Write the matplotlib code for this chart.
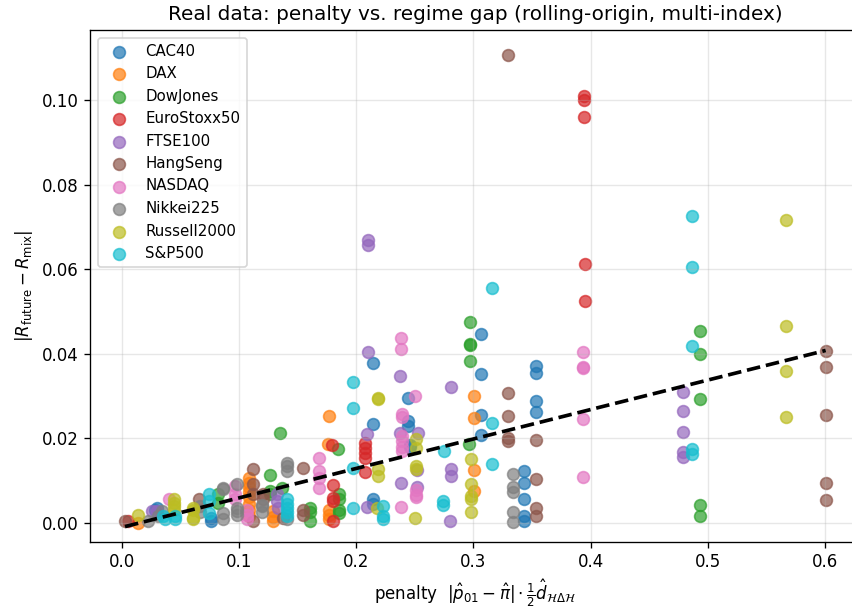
import numpy as np
import matplotlib
matplotlib.use('Agg')
import matplotlib.pyplot as plt

# values (penalty, |R_future - R_mix|)
cac40_x = [0.028, 0.030, 0.076, 0.076, 0.214, 0.214, 0.214, 0.214, 0.244, 0.244, 0.244, 0.246, 0.246,
           0.306, 0.306, 0.306, 0.306, 0.343, 0.343, 0.343, 0.343, 0.343, 0.353, 0.353, 0.353, 0.353]
cac40_y = [0.0031, 0.0035, 0.0004, 0.0012, 0.0377, 0.0233, 0.0055, 0.0045, 0.0296, 0.0241, 0.0229, 0.0185, 0.0178,
           0.0447, 0.0352, 0.0255, 0.0207, 0.0122, 0.0094, 0.0055, 0.0015, 0.0005, 0.0371, 0.0355, 0.0287, 0.0262]

dax_x = [0.0139, 0.108, 0.108, 0.108, 0.108, 0.108, 0.108, 0.108, 0.108, 0.1286, 0.1286, 0.1286,
         0.177, 0.176, 0.177, 0.177, 0.177, 0.3004, 0.3004, 0.3004, 0.3004]
dax_y = [0.0, 0.0106, 0.0095, 0.0085, 0.0072, 0.006, 0.0045, 0.003, 0.0015, 0.0027, 0.0013, 0.0005,
         0.0253, 0.0187, 0.0031, 0.0019, 0.0008, 0.0300, 0.0247, 0.0124, 0.0076]

dow_x = [0.0822, 0.0822, 0.1263, 0.1263, 0.1263, 0.135, 0.1363, 0.1604, 0.1604, 0.1604, 0.1846, 0.1855,
         0.1855, 0.1855, 0.1855, 0.297, 0.297, 0.297, 0.297, 0.2964, 0.493, 0.493, 0.493, 0.493, 0.493]
dow_y = [0.0067, 0.0047, 0.0113, 0.0075, 0.0067, 0.0213, 0.0083, 0.0035, 0.0025, 0.0005, 0.0174, 0.0067,
         0.0055, 0.0031, 0.0023, 0.0474, 0.0423, 0.0421, 0.0383, 0.0186, 0.0453, 0.0400, 0.0292, 0.0042, 0.0017]

euro_x = [0.005, 0.1795, 0.1804, 0.1804, 0.1804, 0.1798, 0.2074, 0.2074, 0.2074, 0.2074, 0.2074,
          0.394, 0.394, 0.394, 0.395, 0.395]
euro_y = [0.0005, 0.0185, 0.0089, 0.0059, 0.0051, 0.0005, 0.0189, 0.0177, 0.0166, 0.0154, 0.0121,
          0.101, 0.100, 0.096, 0.0613, 0.0524]

ftse_x = [0.0253, 0.030, 0.1325, 0.1325, 0.1334, 0.2097, 0.2097, 0.2097, 0.2094, 0.2094, 0.2373, 0.2373,
          0.2378, 0.2523, 0.2515, 0.252, 0.2805, 0.2805, 0.2805, 0.280, 0.479, 0.479, 0.479, 0.479, 0.479]
ftse_y = [0.0027, 0.0027, 0.0067, 0.0051, 0.0035, 0.0668, 0.0658, 0.0405, 0.0209, 0.0037, 0.0348, 0.0213,
          0.0094, 0.0212, 0.0124, 0.0084, 0.0320, 0.0126, 0.0110, 0.0004, 0.0310, 0.0265, 0.0215, 0.0168, 0.0155]

hang_x = [0.0026, 0.066, 0.1115, 0.1115, 0.1115, 0.1115, 0.1206, 0.1206, 0.1377, 0.1548, 0.1548, 0.1548,
          0.3297, 0.3297, 0.3297, 0.3297, 0.3297, 0.353, 0.353, 0.353, 0.353,
          0.6006, 0.6006, 0.6006, 0.6006, 0.6006]
hang_y = [0.0004, 0.0055, 0.0126, 0.0091, 0.0067, 0.0004, 0.0067, 0.0055, 0.0011, 0.0129, 0.0031, 0.0019,
          0.1107, 0.0308, 0.0253, 0.0201, 0.0193, 0.0195, 0.0104, 0.0035, 0.0015,
          0.0407, 0.0368, 0.0254, 0.0093, 0.0054]

nasdaq_x = [0.0404, 0.0964, 0.0964, 0.0964, 0.1064, 0.1064, 0.1064, 0.1684, 0.1684, 0.1684, 0.1684,
            0.2378, 0.2378, 0.2387, 0.2387, 0.2387, 0.2387, 0.2387, 0.2387, 0.2378, 0.250, 0.251, 0.251, 0.251,
            0.3937, 0.3937, 0.3937, 0.3937, 0.3937]
nasdaq_y = [0.0056, 0.0087, 0.0067, 0.0055, 0.0031, 0.0019, 0.0008, 0.0154, 0.0122, 0.0106, 0.0083,
            0.0438, 0.0411, 0.0257, 0.0249, 0.0205, 0.0193, 0.0180, 0.0170, 0.0037, 0.0300, 0.0078, 0.0065, 0.0060,
            0.0405, 0.0369, 0.0365, 0.0245, 0.0109]

nikkei_x = [0.0225, 0.031, 0.0339, 0.0666, 0.0666, 0.0865, 0.0865, 0.0865, 0.0865, 0.0979, 0.0979, 0.0979,
            0.0979, 0.1192, 0.1192, 0.1192, 0.1406, 0.1406, 0.1406, 0.1406, 0.3334, 0.3334, 0.3334, 0.3334, 0.3334]
nikkei_y = [0.0004, 0.0015, 0.0027, 0.0039, 0.0025, 0.0083, 0.0079, 0.0023, 0.0008, 0.0091, 0.0035, 0.0027,
            0.0019, 0.0043, 0.0039, 0.0026, 0.0142, 0.0134, 0.0122, 0.0008, 0.0116, 0.0084, 0.0073, 0.0025, 0.0002]

russell_x = [0.0139, 0.0444, 0.0444, 0.0444, 0.0444, 0.0609, 0.0609, 0.0609, 0.0609, 0.2188, 0.2188, 0.2188,
             0.2188, 0.2174, 0.2509, 0.2509, 0.2509, 0.2509, 0.250, 0.298, 0.298, 0.298, 0.298, 0.298,
             0.567, 0.567, 0.567, 0.567]
russell_y = [0.0018, 0.0055, 0.0047, 0.0040, 0.0031, 0.0035, 0.0031, 0.0011, 0.0008, 0.0296, 0.0293, 0.0126,
             0.0110, 0.0035, 0.0197, 0.0177, 0.0134, 0.0126, 0.0010, 0.0150, 0.0092, 0.0063, 0.0057, 0.0026,
             0.0717, 0.0466, 0.0359, 0.0249]

sp500_x = [0.0353, 0.0367, 0.0452, 0.0452, 0.0745, 0.0745, 0.0745, 0.1406, 0.1406, 0.1406, 0.1406, 0.1406,
           0.197, 0.1974, 0.1974, 0.1974, 0.2225, 0.2225, 0.2225, 0.2751, 0.2742, 0.2742,
           0.3155, 0.3155, 0.3155, 0.4865, 0.4865, 0.4865, 0.4865, 0.4865]
sp500_y = [0.0015, 0.0008, 0.0008, 0.0015, 0.0068, 0.0051, 0.0023, 0.0055, 0.0045, 0.0035, 0.0025, 0.0015,
           0.0333, 0.0272, 0.0129, 0.0034, 0.0039, 0.0015, 0.0008, 0.0170, 0.0051, 0.0042,
           0.0555, 0.0235, 0.0140, 0.0725, 0.0604, 0.0418, 0.0174, 0.0163]

names = ['CAC40', 'DAX', 'DowJones', 'EuroStoxx50', 'FTSE100', 'HangSeng', 'NASDAQ', 'Nikkei225',
         'Russell2000', 'S&P500']
xs_all = [cac40_x, dax_x, dow_x, euro_x, ftse_x, hang_x, nasdaq_x, nikkei_x, russell_x, sp500_x]
ys_all = [cac40_y, dax_y, dow_y, euro_y, ftse_y, hang_y, nasdaq_y, nikkei_y, russell_y, sp500_y]

# least-squares line
fit_slope = 0.0697
fit_intercept = -0.0011

fig = plt.figure(figsize=(7.1, 5.125), dpi=120)
ax = fig.add_axes([90/852, 1-541.7/615, 770.7/852, 511.7/615])

for name, xv, yv in zip(names, xs_all, ys_all):
    ax.scatter(xv, yv, s=50, alpha=0.7, label=name)

allx = np.concatenate([np.array(v) for v in xs_all])
xx = np.linspace(allx.min(), allx.max(), 100)
ax.plot(xx, fit_intercept + fit_slope*xx, 'k--', linewidth=2.2)

ax.set_xlim(-0.0273, 0.6305)
ax.set_ylim(-0.0045, 0.1166)
ax.set_xlabel(r'penalty  $|\hat{p}_{01}-\hat{\pi}|\cdot\frac{1}{2}\hat{d}_{\mathcal{H}\Delta\mathcal{H}}$')
ax.set_ylabel(r'$|R_{\rm future}-R_{\rm mix}|$')
ax.set_title('Real data: penalty vs. regime gap (rolling-origin, multi-index)')
ax.grid(True, alpha=0.3)
ax.legend(loc='upper left', fontsize=9)

fig.savefig('out.png', dpi=120)
